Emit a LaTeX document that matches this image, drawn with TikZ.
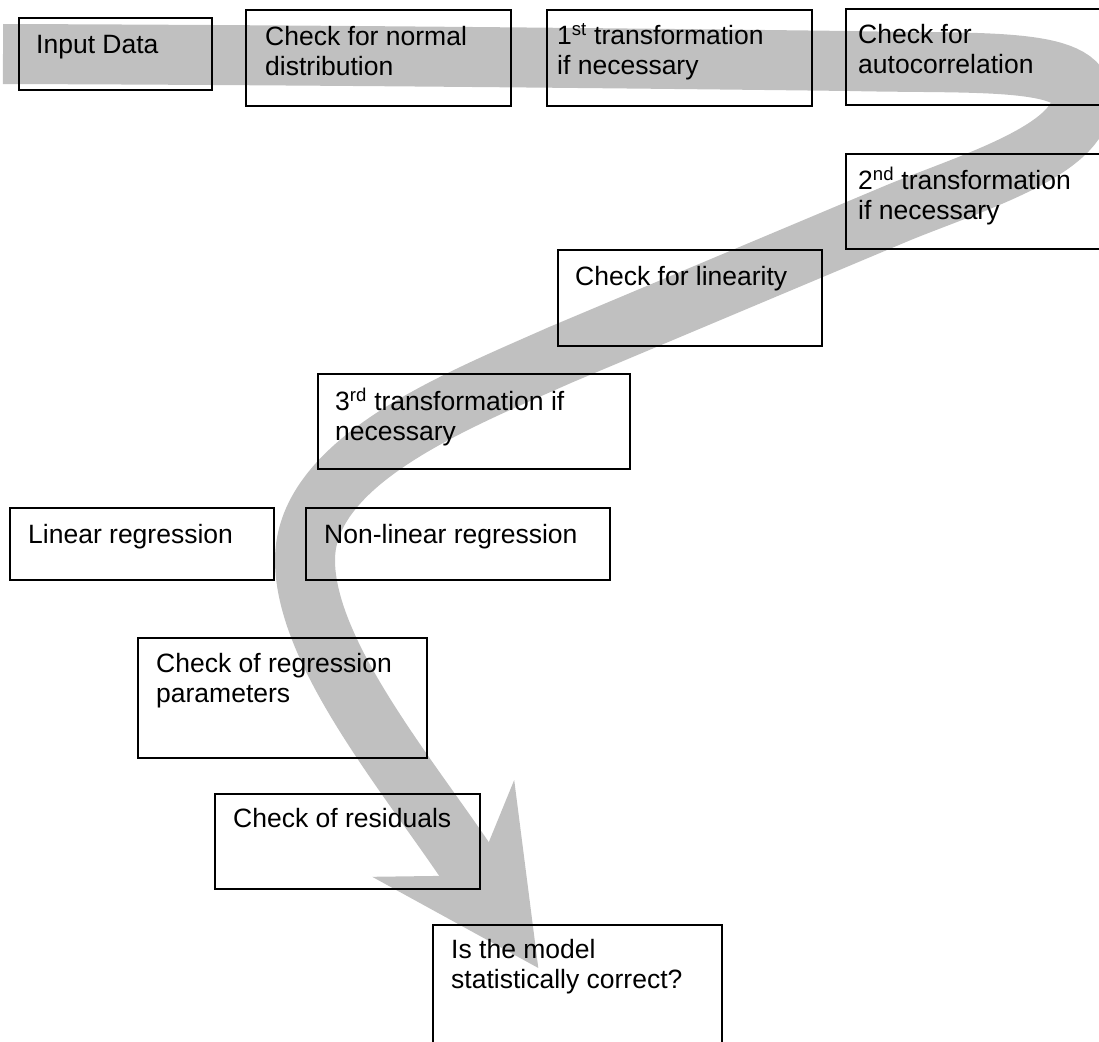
\documentclass[tikz,border=0pt]{standalone}
\usepackage{fontspec}
\setmainfont{Liberation Sans}
\definecolor{bandgray}{RGB}{192,192,192}
\tikzset{
  stepbox/.style={draw=black, line width=1.8pt, rectangle, inner sep=0pt, anchor=north west},
  steptext/.style={anchor=north west, inner sep=0pt, align=left,
                   font=\fontsize{26.5}{30}\selectfont},
  band/.style={draw=bandgray, line width=60pt},
}
\begin{document}
\begin{tikzpicture}[x=1pt, y=-1pt]
  \useasboundingbox (0,0) rectangle (1099,1041);
  \clip (0,0) rectangle (1099,1041);

  % wide grey process arrow running behind the steps
  \coordinate (bandStart) at (3,54);
  \coordinate (bandTurn)  at (1082,100);
  \coordinate (bandBase)  at (464,859);
  \draw[band] (bandStart) .. controls (300,55) and (600,58) .. (850,61)
        .. controls (975,64) and (1084,56) .. (bandTurn)
        .. controls (1080,150) and (974,182) .. (900,212)
        -- (560,355)
        .. controls (459,400) and (305,460) .. (305,560)
        .. controls (305,650) and (402,768) .. (bandBase) -- (467.4,864);
  % swept-back arrow head
  \fill[bandgray] (488.8,842.1) -- (514.2,780.0) -- (538.3,968.0)
        -- (372.2,876.8) -- (439.2,875.9) -- cycle;

  % step boxes
  \node[stepbox, minimum width=193pt, minimum height=72pt]  (inp)   at (18,17)   {};
  \node[stepbox, minimum width=265pt, minimum height=96pt]  (nrm)   at (245,9)   {};
  \node[stepbox, minimum width=265pt, minimum height=96pt]  (tr1)   at (546,9)   {};
  \node[stepbox, minimum width=280pt, minimum height=96pt]  (acr)   at (845,8)   {};
  \node[stepbox, minimum width=280pt, minimum height=95pt]  (tr2)   at (845,153) {};
  \node[stepbox, minimum width=264pt, minimum height=96pt]  (lin)   at (557,249) {};
  \node[stepbox, minimum width=312pt, minimum height=95pt]  (tr3)   at (317,373) {};
  \node[stepbox, minimum width=264pt, minimum height=72pt]  (lreg)  at (9,507)   {};
  \node[stepbox, minimum width=304pt, minimum height=72pt]  (nlreg) at (305,507) {};
  \node[stepbox, minimum width=289pt, minimum height=120pt] (crp)   at (137,637) {};
  \node[stepbox, minimum width=265pt, minimum height=95pt]  (res)   at (214,793) {};
  \node[stepbox, minimum width=289pt, minimum height=140pt] (mdl)   at (432,924) {};

  % step labels (placed by the first baseline: top = baseline - strut height)
  \node[steptext] (inpT)   at (36,32)   {\strut Input Data};
  \node[steptext] (nrmT)   at (265,24)  {\strut Check for normal\\distribution};
  \node[steptext] (tr1T)   at (557,23)  {\strut 1\textsuperscript{st} transformation\\if necessary};
  \node[steptext] (acrT)   at (858,22)  {\strut Check for\\autocorrelation};
  \node[steptext] (tr2T)   at (858,167) {\strut 2\textsuperscript{nd} transformation\\if necessary};
  \node[steptext] (linT)   at (575,264) {\strut Check for linearity};
  \node[steptext] (tr3T)   at (335,388) {\strut 3\textsuperscript{rd} transformation if\\necessary};
  \node[steptext] (lregT)  at (28,522)  {\strut Linear regression};
  \node[steptext] (nlregT) at (324,522) {\strut Non-linear regression};
  \node[steptext] (crpT)   at (156,651) {\strut Check of regression\\parameters};
  \node[steptext] (resT)   at (233,806) {\strut Check of residuals};
  \node[steptext] (mdlT)   at (451,937) {\strut Is the model\\statistically correct?};
\end{tikzpicture}
\end{document}
